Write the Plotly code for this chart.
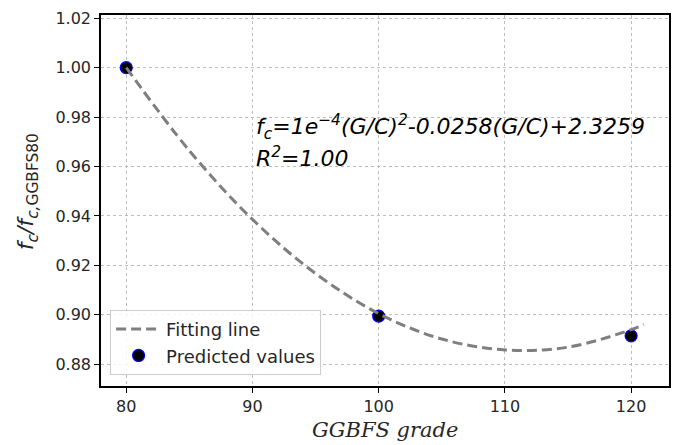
import plotly.graph_objects as go

# GGBFS grade vs. normalised compressive strength
grades = [80, 100, 120]
predicted = [1.000, 0.8995, 0.8915]

# Fitted quadratic trend, sampled along the grade axis
fit_x = [80, 85, 90, 95, 100, 105, 110, 115, 120, 121]
fit_y = [1.000, 0.9664, 0.9386, 0.9167, 0.9005, 0.8902, 0.8858, 0.8869, 0.8940, 0.8961]

x_ticks = [80, 90, 100, 110, 120]
y_ticks = [0.88, 0.90, 0.92, 0.94, 0.96, 0.98, 1.00, 1.02]

fig = go.Figure()

fig.add_trace(go.Scatter(
    x=grades, y=predicted, mode="markers", name="Predicted values",
    marker=dict(size=12, color="black", line=dict(color="blue", width=1.2)),
    legendrank=2,
))
fig.add_trace(go.Scatter(
    x=fit_x, y=fit_y, mode="lines", name="Fitting line",
    line=dict(color="#7f7f7f", width=3, dash="10px,5px", shape="spline"),
    legendrank=1,
))

axis_common = dict(
    showline=True, linecolor="black", linewidth=1.5, mirror=True,
    ticks="outside", ticklen=5, tickwidth=1, tickcolor="black",
    showgrid=True, gridcolor="#bdbdbd", gridwidth=1, griddash="dot",
    zeroline=False,
    tickfont=dict(family="DejaVu Sans", size=16, color="#262626"),
)

fig.update_xaxes(range=[78, 123], tickvals=x_ticks, **axis_common)
fig.update_yaxes(range=[0.8712, 1.0213], tickvals=y_ticks, tickformat=".2f", **axis_common)

fig.add_annotation(
    x=90.1, y=0.9758, xref="x", yref="y", xanchor="left", yanchor="middle",
    text="<i>f<sub>c</sub>=1e<sup>−4</sup>(G/C)<sup>2</sup>-0.0258(G/C)+2.3259</i>",
    showarrow=False, font=dict(family="DejaVu Sans", size=22, color="black"),
)
fig.add_annotation(
    x=90.1, y=0.9640, xref="x", yref="y", xanchor="left", yanchor="middle",
    text="<i>R<sup>2</sup>=1.00</i>",
    showarrow=False, font=dict(family="DejaVu Sans", size=22, color="black"),
)

# axis titles
fig.add_annotation(
    x=0.5, y=-0.118, xref="paper", yref="paper", xanchor="center", yanchor="middle",
    text="GGBFS grade", showarrow=False,
    font=dict(family="DejaVu Serif", size=21, color="#262626", style="italic"),
)
fig.add_annotation(
    x=-0.128, y=0.523, xref="paper", yref="paper", xanchor="center", yanchor="middle",
    text="<i>f<sub>c</sub>/f<sub>c,</sub></i><sub>GGBFS80</sub>", textangle=-90,
    showarrow=False, font=dict(family="DejaVu Sans", size=22, color="#262626"),
)

fig.update_layout(
    width=678, height=445,
    margin=dict(l=101, r=7, t=15, b=59),
    paper_bgcolor="white", plot_bgcolor="white",
    showlegend=True,
    legend=dict(
        x=0.016, y=0.03, xanchor="left", yanchor="bottom",
        bgcolor="rgba(255,255,255,0.85)", bordercolor="#cccccc", borderwidth=1,
        font=dict(family="DejaVu Sans", size=18, color="#262626"),
        itemwidth=45, tracegroupgap=2,
    ),
)

fig.write_html("out.html")
